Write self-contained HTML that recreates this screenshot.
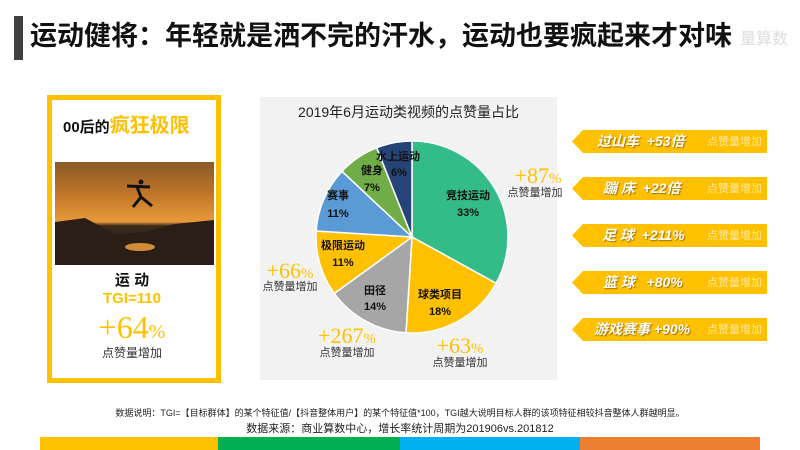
<!DOCTYPE html>
<html><head><meta charset="utf-8"><style>
body{margin:0;width:800px;height:450px;background:#fff;position:relative;overflow:hidden;font-family:"Liberation Sans","Noto Sans CJK SC",sans-serif}
.a{position:absolute;white-space:nowrap;line-height:1.2}
.tag{position:absolute;left:572px;width:195px;height:23px}
.tag svg{position:absolute;left:0;top:0}
.tag .t{position:absolute;left:30px;top:3px;font-size:14px;line-height:17px;font-weight:bold;font-style:italic;color:#fff;text-shadow:1px 1px 1px #a07000}
.tag .s{position:absolute;right:5px;top:5px;font-size:11px;line-height:14px;color:#ffe9a0}
</style></head><body>
<div class="a" style="left:14px;top:16px;width:9px;height:44px;background:#404040"></div>
<div class="a" style="left:30px;top:20px;font-size:27px;font-weight:bold;color:#111">运动健将：年轻就是洒不完的汗水，运动也要疯起来才对味</div>
<div class="a" style="left:740px;top:30px;font-size:16px;color:#ddd">量算数</div>

<div class="a" style="left:47px;top:95px;width:164px;height:278px;border:5px solid #ffc000"></div>
<div class="a" style="left:63px;top:114px;font-size:15px;font-weight:bold;color:#111">00后的<span style="font-size:20px;color:#ffc000">疯狂极限</span></div>
<div class="a" style="left:55px;top:162px;width:159px;height:103px;background:linear-gradient(#8a5a26 0%,#c77a2a 35%,#e89a3a 58%,#3a2a1c 62%,#2b2018 100%)"></div>
<svg class="a" style="left:55px;top:162px" width="159" height="103"><path d="M0 60 L30 56 L60 72 L90 70 L120 62 L159 58 L159 103 L0 103Z" fill="#2a1e16"/><ellipse cx="85" cy="85" rx="15" ry="4" fill="#d08a3a"/><circle cx="86" cy="20" r="2.5" fill="#111"/><path d="M72 24 L95 25 M82 25 L86 35 L78 45 M86 35 L97 44" stroke="#111" stroke-width="3" fill="none"/></svg>
<div class="a" style="left:0;width:264px;top:272px;text-align:center;font-size:15px;font-weight:bold;color:#111">运 动</div>
<div class="a" style="left:0;width:264px;top:290px;text-align:center;font-size:15px;font-weight:bold;color:#ffc000">TGI=110</div>
<div class="a" style="left:0;width:264px;top:308px;text-align:center;font-size:32px;font-family:'Liberation Serif',serif;color:#ffc000">+64<span style="font-size:20px">%</span></div>
<div class="a" style="left:0;width:264px;top:346px;text-align:center;font-size:12px;color:#333">点赞量增加</div>

<div class="a" style="left:260px;top:97px;width:297px;height:283px;background:#f2f2f2"></div>
<div class="a" style="left:260px;width:297px;top:104px;text-align:center;font-size:14px;color:#222">2019年6月运动类视频的点赞量占比</div>
<svg class="a" style="left:0;top:0" width="800" height="450" stroke="#fff" stroke-width="1.5">
<path d="M412 237 L412 141 A96 96 0 0 1 496.1 283.3Z" fill="#33bb88"/>
<path d="M412 237 L496.1 283.3 A96 96 0 0 1 406 332.8Z" fill="#ffc000"/>
<path d="M412 237 L406 332.8 A96 96 0 0 1 334.3 293.4Z" fill="#a6a6a6"/>
<path d="M412 237 L334.3 293.4 A96 96 0 0 1 316.2 231Z" fill="#ffc000"/>
<path d="M412 237 L316.2 231 A96 96 0 0 1 342 171.3Z" fill="#5b9bd5"/>
<path d="M412 237 L342 171.3 A96 96 0 0 1 376.7 147.7Z" fill="#70ad47"/>
<path d="M412 237 L376.7 147.7 A96 96 0 0 1 412 141Z" fill="#264478"/>
<g stroke="none" font-size="11" font-weight="bold" fill="#111" text-anchor="middle" font-family="Liberation Sans,Noto Sans CJK SC,sans-serif">
<text x="468" y="199">竞技运动</text><text x="468" y="216">33%</text>
<text x="440" y="298">球类项目</text><text x="440" y="315">18%</text>
<text x="375" y="294">田径</text><text x="375" y="310">14%</text>
<text x="343" y="249">极限运动</text><text x="343" y="266">11%</text>
<text x="338" y="199">赛事</text><text x="338" y="217">11%</text>
<text x="372" y="174">健身</text><text x="372" y="191">7%</text>
<text x="398" y="160">水上运动</text><text x="399" y="176">6%</text>
</g>
<g stroke="none" fill="#ffc000" font-family="Liberation Serif,serif" font-size="22" text-anchor="middle">
<text x="538" y="183">+87<tspan font-size="15">%</tspan></text>
<text x="290" y="278">+66<tspan font-size="15">%</tspan></text>
<text x="347" y="343">+267<tspan font-size="15">%</tspan></text>
<text x="460" y="353">+63<tspan font-size="15">%</tspan></text>
</g>
<g stroke="none" fill="#333" font-size="11" text-anchor="middle" font-family="Liberation Sans,Noto Sans CJK SC,sans-serif">
<text x="535" y="196">点赞量增加</text><text x="290" y="290">点赞量增加</text><text x="347" y="356">点赞量增加</text><text x="460" y="366">点赞量增加</text>
</g>
</svg>

<div class="tag" style="top:130px"><svg width="195" height="23"><path d="M11 0H195V23H11L0 11.5Z" fill="#ffc000"/></svg><div class="t" style="left:25px">过山车 &nbsp;+53倍</div><div class="s">点赞量增加</div></div>
<div class="tag" style="top:177px"><svg width="195" height="23"><path d="M11 0H195V23H11L0 11.5Z" fill="#ffc000"/></svg><div class="t" style="left:31px">蹦 床 &nbsp;+22倍</div><div class="s">点赞量增加</div></div>
<div class="tag" style="top:224px"><svg width="195" height="23"><path d="M11 0H195V23H11L0 11.5Z" fill="#ffc000"/></svg><div class="t" style="left:30px">足 球 &nbsp;+211%</div><div class="s">点赞量增加</div></div>
<div class="tag" style="top:271px"><svg width="195" height="23"><path d="M11 0H195V23H11L0 11.5Z" fill="#ffc000"/></svg><div class="t" style="left:31px">篮 球 &nbsp; +80%</div><div class="s">点赞量增加</div></div>
<div class="tag" style="top:318px"><svg width="195" height="23"><path d="M11 0H195V23H11L0 11.5Z" fill="#ffc000"/></svg><div class="t" style="left:22px">游戏赛事 +90%</div><div class="s">点赞量增加</div></div>

<div class="a" style="left:0;width:800px;top:408px;text-align:center;font-size:9px;color:#222">数据说明：TGI=【目标群体】的某个特征值/【抖音整体用户】的某个特征值*100，TGI越大说明目标人群的该项特征相较抖音整体人群越明显。</div>
<div class="a" style="left:0;width:800px;top:423px;text-align:center;font-size:11px;color:#222">数据来源：商业算数中心，增长率统计周期为201906vs.201812</div>
<div class="a" style="left:40px;top:437px;width:178px;height:13px;background:#ffc000"></div>
<div class="a" style="left:218px;top:437px;width:182px;height:13px;background:#00b050"></div>
<div class="a" style="left:400px;top:437px;width:180px;height:13px;background:#00b0f0"></div>
<div class="a" style="left:580px;top:437px;width:180px;height:13px;background:#ed7d31"></div>
</body></html>
